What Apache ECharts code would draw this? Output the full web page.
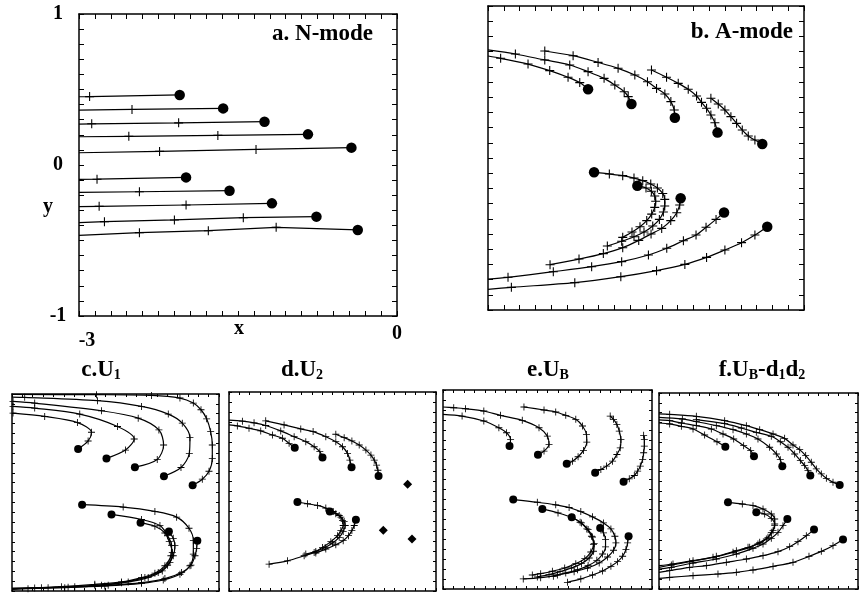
<!DOCTYPE html>
<html>
<head>
<meta charset="utf-8">
<script src="https://cdn.jsdelivr.net/npm/echarts@6/dist/echarts.min.js"></script>
<style>
html,body{margin:0;padding:0;background:#fff;}
#chart{width:860px;height:594px;}
</style>
</head>
<body>
<div id="chart"></div>
<script>
// Trajectories: each track is a list of [x, y] points. The first point is the
// starting position (filled dot); the others are marked with crosses.
// A third value of 0 means the point only carries the line to the frame edge.

const nModeTracks = [
  [[-2.05,0.464],[-2.90,0.453],[-3,0.452,0]],
  [[-1.64,0.375],[-2.50,0.368],[-3,0.364,0]],
  [[-1.25,0.287],[-2.06,0.279],[-2.88,0.273],[-3,0.271,0]],
  [[-0.84,0.203],[-1.69,0.196],[-2.53,0.190],[-3,0.187,0]],
  [[-0.43,0.115],[-1.33,0.103],[-2.24,0.090],[-3,0.081,0]],
  [[-1.99,-0.082],[-2.83,-0.094],[-3,-0.095,0]],
  [[-1.58,-0.170],[-2.43,-0.177],[-3,-0.181,0]],
  [[-1.18,-0.254],[-1.99,-0.265],[-2.81,-0.274],[-3,-0.276,0]],
  [[-0.76,-0.342],[-1.45,-0.349],[-2.10,-0.364],[-2.76,-0.375],[-3,-0.382,0]],
  [[-0.37,-0.430],[-1.14,-0.413],[-1.78,-0.435],[-2.43,-0.448],[-3,-0.466,0]]
];

const aModeTracks = [
  [[-2.050,0.452],[-2.129,0.496],[-2.240,0.531],[-2.414,0.575],[-2.620,0.618],[-2.880,0.656],[-3,0.671,0]],
  [[-1.638,0.355],[-1.669,0.404],[-1.707,0.436],[-1.796,0.480],[-1.898,0.524],[-2.050,0.568],[-2.224,0.612],[-2.461,0.645],[-2.740,0.684],[-3,0.711,0]],
  [[-1.226,0.265],[-1.232,0.316],[-1.264,0.371],[-1.321,0.421],[-1.400,0.458],[-1.486,0.502],[-1.606,0.546],[-1.765,0.590],[-1.955,0.629],[-2.192,0.673],[-2.461,0.704]],
  [[-0.821,0.167],[-0.846,0.232],[-0.884,0.283],[-0.925,0.327],[-0.973,0.366],[-1.020,0.408],[-1.099,0.452],[-1.194,0.491],[-1.305,0.531],[-1.448,0.579]],
  [[-0.396,0.092],[-0.466,0.118],[-0.529,0.145],[-0.586,0.184],[-0.640,0.228],[-0.694,0.272],[-0.751,0.316],[-0.814,0.355],[-0.884,0.393]],
  [[-1.993,-0.094],[-1.848,-0.105],[-1.721,-0.116],[-1.614,-0.132],[-1.531,-0.149],[-1.455,-0.171],[-1.392,-0.197],[-1.341,-0.233],[-1.322,-0.272],[-1.322,-0.316],[-1.335,-0.355],[-1.373,-0.404],[-1.436,-0.447],[-1.519,-0.487],[-1.614,-0.518],[-1.731,-0.548],[-1.867,-0.579]],
  [[-1.582,-0.182],[-1.500,-0.197],[-1.449,-0.219],[-1.417,-0.250],[-1.408,-0.285],[-1.417,-0.325],[-1.446,-0.369],[-1.493,-0.412],[-1.557,-0.452],[-1.633,-0.487],[-1.721,-0.522]],
  [[-1.171,-0.265],[-1.180,-0.309],[-1.208,-0.360],[-1.265,-0.412],[-1.351,-0.463],[-1.452,-0.500],[-1.569,-0.542],[-1.721,-0.590],[-1.905,-0.629],[-2.136,-0.665],[-2.411,-0.702]],
  [[-0.759,-0.358],[-0.835,-0.404],[-0.930,-0.456],[-1.025,-0.507],[-1.145,-0.544],[-1.303,-0.594],[-1.477,-0.638],[-1.731,-0.682],[-2.016,-0.715],[-2.380,-0.748],[-2.810,-0.785],[-3,-0.797,0]],
  [[-0.349,-0.452],[-0.466,-0.507],[-0.593,-0.557],[-0.751,-0.605],[-0.925,-0.654],[-1.131,-0.700],[-1.400,-0.741],[-1.739,-0.781],[-2.176,-0.820],[-2.778,-0.851],[-3,-0.864,0]]
];

const u1Tracks = [
  [[-2.042,0.441],[-1.897,0.523],[-1.848,0.612],[-2.052,0.710],[-2.526,0.772],[-2.985,0.806]],
  [[-1.631,0.346],[-1.355,0.431],[-1.229,0.543],[-1.471,0.670],[-2.018,0.796],[-2.671,0.857],[-2.985,0.874]],
  [[-1.219,0.257],[-0.895,0.336],[-0.803,0.482],[-0.871,0.635],[-1.171,0.755],[-1.703,0.830],[-2.671,0.908],[-2.985,0.925]],
  [[-0.798,0.165],[-0.551,0.254],[-0.430,0.397],[-0.421,0.557],[-0.532,0.704],[-0.735,0.796],[-1.123,0.874],[-1.761,0.932],[-2.816,0.966],[-3,0.969,0]],
  [[-0.382,0.073],[-0.242,0.135],[-0.145,0.216],[-0.097,0.346],[-0.097,0.482],[-0.121,0.618],[-0.179,0.748],[-0.261,0.840],[-0.372,0.908],[-0.566,0.959],[-0.977,0.986],[-1.776,0.993],[-3,0.995,0]],
  [[-1.984,-0.124],[-1.389,-0.148],[-0.929,-0.192],[-0.614,-0.250],[-0.435,-0.363],[-0.372,-0.489],[-0.372,-0.625],[-0.421,-0.744],[-0.566,-0.830],[-0.808,-0.888],[-1.123,-0.922],[-1.655,-0.949],[-2.235,-0.966],[-2.768,-0.976],[-3,-0.983,0]],
  [[-1.558,-0.223],[-1.123,-0.274],[-0.856,-0.336],[-0.745,-0.438],[-0.687,-0.540],[-0.697,-0.642],[-0.784,-0.744],[-0.929,-0.819],[-1.123,-0.864],[-1.413,-0.908],[-1.800,-0.932],[-2.284,-0.956],[-2.671,-0.969],[-3,-0.976,0]],
  [[-1.137,-0.308],[-0.929,-0.342],[-0.784,-0.411],[-0.721,-0.499],[-0.677,-0.608],[-0.711,-0.710],[-0.822,-0.796],[-1.026,-0.864],[-1.316,-0.908],[-1.703,-0.942],[-2.187,-0.962],[-3,-0.973,0]],
  [[-0.726,-0.397],[-0.663,-0.465],[-0.639,-0.540],[-0.663,-0.642],[-0.745,-0.738],[-0.881,-0.813],[-1.074,-0.864],[-1.413,-0.915],[-1.800,-0.942],[-2.477,-0.966],[-3,-0.979,0]],
  [[-0.314,-0.489],[-0.324,-0.567],[-0.348,-0.642],[-0.406,-0.738],[-0.542,-0.813],[-0.784,-0.874],[-1.123,-0.915],[-1.606,-0.942],[-2.090,-0.956],[-2.574,-0.966],[-3,-0.973,0]]
];

const u2Tracks = [
  [[-2.047,0.440],[-2.129,0.484],[-2.226,0.535],[-2.371,0.568],[-2.540,0.609],[-2.710,0.636],[-2.879,0.659],[-3,0.669,0]],
  [[-1.645,0.342],[-1.684,0.400],[-1.766,0.450],[-1.887,0.501],[-2.056,0.551],[-2.250,0.609],[-2.468,0.663],[-2.637,0.690],[-2.806,0.707],[-3,0.717,0]],
  [[-1.224,0.244],[-1.248,0.315],[-1.282,0.383],[-1.355,0.450],[-1.452,0.501],[-1.597,0.551],[-1.781,0.602],[-1.960,0.629],[-2.202,0.669],[-2.468,0.710]],
  [[-0.832,0.157],[-0.842,0.214],[-0.861,0.265],[-0.895,0.315],[-0.943,0.366],[-1.016,0.416],[-1.113,0.467],[-1.219,0.508],[-1.331,0.541],[-1.452,0.575]],
  [[-2.008,-0.106],[-1.863,-0.123],[-1.718,-0.140],[-1.597,-0.167],[-1.490,-0.201],[-1.403,-0.241],[-1.355,-0.292],[-1.345,-0.342],[-1.379,-0.393],[-1.427,-0.444],[-1.524,-0.504],[-1.645,-0.562],[-1.766,-0.612],[-1.911,-0.646],[-2.153,-0.697],[-2.419,-0.730]],
  [[-1.539,-0.201],[-1.452,-0.224],[-1.379,-0.258],[-1.331,-0.302],[-1.316,-0.342],[-1.345,-0.403],[-1.403,-0.461],[-1.500,-0.518],[-1.606,-0.562],[-1.742,-0.602],[-1.887,-0.629]],
  [[-1.161,-0.285],[-1.185,-0.342],[-1.219,-0.393],[-1.268,-0.444],[-1.345,-0.494],[-1.452,-0.535],[-1.597,-0.579],[-1.742,-0.619]]
];
// starting positions that do not move in the U2 run
const u2Stationary = [[-0.411,0.072],[-0.764,-0.390],[-0.348,-0.477]];

const ubTracks = [
  [[-2.045,0.436],[-2.030,0.503],[-2.088,0.570],[-2.198,0.621],[-2.414,0.688],[-2.726,0.738],[-3,0.755,0]],
  [[-1.637,0.349],[-1.550,0.386],[-1.478,0.453],[-1.502,0.537],[-1.622,0.621],[-1.862,0.695],[-2.174,0.745],[-2.414,0.789],[-2.678,0.812],[-2.846,0.822],[-3,0.829,0]],
  [[-1.224,0.258],[-1.142,0.285],[-1.061,0.329],[-0.984,0.393],[-0.936,0.476],[-0.941,0.554],[-0.998,0.638],[-1.094,0.705],[-1.238,0.745],[-1.382,0.779],[-1.550,0.799],[-1.838,0.829]],
  [[-0.816,0.168],[-0.734,0.201],[-0.653,0.235],[-0.566,0.285],[-0.504,0.352],[-0.456,0.419],[-0.446,0.503],[-0.470,0.587],[-0.504,0.654],[-0.552,0.705],[-0.600,0.738]],
  [[-0.408,0.077],[-0.326,0.107],[-0.254,0.141],[-0.206,0.184],[-0.168,0.235],[-0.134,0.302],[-0.120,0.369],[-0.110,0.436],[-0.110,0.503],[-0.120,0.544]],
  [[-1.992,-0.101],[-1.646,-0.128],[-1.382,-0.154],[-1.190,-0.181],[-1.022,-0.222],[-0.854,-0.275],[-0.696,-0.336],[-0.590,-0.396],[-0.533,-0.470],[-0.518,-0.537],[-0.552,-0.611],[-0.638,-0.678],[-0.758,-0.738],[-0.926,-0.789],[-1.118,-0.826],[-1.358,-0.859],[-1.598,-0.886],[-1.848,-0.899]],
  [[-1.574,-0.195],[-1.349,-0.235],[-1.157,-0.279],[-1.013,-0.336],[-0.917,-0.403],[-0.854,-0.477],[-0.840,-0.554],[-0.878,-0.628],[-0.965,-0.695],[-1.094,-0.745],[-1.253,-0.789],[-1.430,-0.822],[-1.598,-0.846],[-1.718,-0.859]],
  [[-1.152,-0.279],[-1.032,-0.329],[-0.936,-0.396],[-0.869,-0.470],[-0.830,-0.544],[-0.840,-0.621],[-0.902,-0.688],[-1.013,-0.745],[-1.157,-0.789],[-1.320,-0.826],[-1.478,-0.856],[-1.646,-0.879]],
  [[-0.744,-0.386],[-0.696,-0.436],[-0.667,-0.503],[-0.667,-0.577],[-0.710,-0.648],[-0.792,-0.712],[-0.917,-0.765],[-1.070,-0.806],[-1.238,-0.839],[-1.416,-0.873]],
  [[-0.336,-0.470],[-0.350,-0.537],[-0.374,-0.604],[-0.422,-0.671],[-0.494,-0.725],[-0.590,-0.772],[-0.710,-0.819],[-0.854,-0.859],[-1.022,-0.899],[-1.214,-0.933]]
];

const ubd1d2Tracks = [
  [[-2.000,0.452],[-2.126,0.503],[-2.312,0.571],[-2.487,0.633],[-2.663,0.660],[-2.839,0.684],[-3,0.694,0]],
  [[-1.568,0.354],[-1.618,0.412],[-1.724,0.463],[-1.874,0.531],[-2.035,0.582],[-2.211,0.633],[-2.437,0.667],[-2.663,0.694],[-2.839,0.718],[-3,0.725,0]],
  [[-1.141,0.252],[-1.171,0.320],[-1.231,0.378],[-1.332,0.446],[-1.508,0.531],[-1.683,0.582],[-1.884,0.626],[-2.136,0.667],[-2.437,0.708],[-2.648,0.735],[-3,0.752,0]],
  [[-0.719,0.157],[-0.754,0.208],[-0.804,0.259],[-0.869,0.310],[-0.955,0.378],[-1.055,0.446],[-1.171,0.503],[-1.307,0.558],[-1.533,0.599],[-1.759,0.643],[-2.010,0.687],[-2.437,0.728]],
  [[-0.276,0.061],[-0.377,0.089],[-0.477,0.129],[-0.553,0.174],[-0.628,0.225],[-0.704,0.293],[-0.789,0.361],[-0.879,0.422],[-0.980,0.469],[-1.106,0.537],[-1.281,0.582],[-1.482,0.626],[-1.683,0.667],[-2.010,0.718],[-2.437,0.762],[-2.839,0.782],[-3,0.786,0]],
  [[-1.960,-0.116],[-1.744,-0.133],[-1.583,-0.150],[-1.432,-0.184],[-1.307,-0.235],[-1.256,-0.286],[-1.256,-0.354],[-1.307,-0.422],[-1.382,-0.490],[-1.508,-0.541],[-1.658,-0.575],[-1.834,-0.609],[-2.136,-0.667],[-2.487,-0.711],[-2.789,-0.745],[-3,-0.762,0]],
  [[-1.533,-0.218],[-1.407,-0.235],[-1.307,-0.279],[-1.256,-0.337],[-1.281,-0.405],[-1.357,-0.473],[-1.482,-0.524],[-1.633,-0.575],[-1.884,-0.626],[-2.186,-0.677],[-2.538,-0.721],[-2.814,-0.755],[-3,-0.779,0]],
  [[-1.065,-0.286],[-1.131,-0.354],[-1.206,-0.422],[-1.307,-0.483],[-1.432,-0.541],[-1.583,-0.585],[-1.834,-0.643],[-2.136,-0.694],[-2.487,-0.735],[-2.814,-0.779],[-3,-0.796,0]],
  [[-0.663,-0.394],[-0.779,-0.456],[-0.905,-0.517],[-1.030,-0.568],[-1.206,-0.619],[-1.432,-0.660],[-1.683,-0.694],[-1.985,-0.728],[-2.286,-0.762],[-2.538,-0.779],[-2.839,-0.813],[-3,-0.830,0]],
  [[-0.226,-0.496],[-0.377,-0.558],[-0.553,-0.616],[-0.739,-0.667],[-0.980,-0.728],[-1.281,-0.769],[-1.583,-0.806],[-1.834,-0.830],[-2.111,-0.847],[-2.487,-0.864],[-2.839,-0.881],[-3,-0.891,0]]
];

const xTickLabels = ['-3', '0'];
const yTickLabels = ['-1', '0', '1'];
const axisNames = ['x', 'y'];
const panelTitles = ['a. N-mode', 'b. A-mode', 'c.U{s|1}', 'd.U{s|2}', 'e.U{s|B}', 'f.U{s|B}-d{s|1}d{s|2}'];

const FONT = '"Liberation Serif", "Times New Roman", serif';
const PLUS = 'path://M4.4,0H5.6V4.4H10V5.6H5.6V10H4.4V5.6H0V4.4H4.4Z';

const panels = [
  { grid: { left: 79, top: 14, width: 318, height: 302 }, tracks: nModeTracks, big: true, smooth: false },
  { grid: { left: 488, top: 6, width: 316, height: 304 }, tracks: aModeTracks, big: true, smooth: 0.3 },
  { grid: { left: 12, top: 394, width: 207, height: 197 }, tracks: u1Tracks, big: false, smooth: 0.3 },
  { grid: { left: 229, top: 392, width: 207, height: 199 }, tracks: u2Tracks, big: false, smooth: 0.3 },
  { grid: { left: 443, top: 390, width: 209, height: 199 }, tracks: ubTracks, big: false, smooth: 0.3 },
  { grid: { left: 659, top: 393, width: 199, height: 196 }, tracks: ubd1d2Tracks, big: false, smooth: 0.3 }
];

const near = (a, b) => Math.abs(a - b) < 1e-6;

function xLabelText(v) {
  if (near(v, -3)) return '{l|' + xTickLabels[0] + '}';
  if (near(v, 0)) return '{r|' + xTickLabels[1] + '}';
  return '';
}
function yLabelText(v) {
  if (near(v, -1)) return yTickLabels[0];
  if (near(v, 0)) return yTickLabels[1];
  if (near(v, 1)) return yTickLabels[2];
  return '';
}

const xAxes = [], yAxes = [], series = [];

panels.forEach((p, i) => {
  const tickLen = p.big ? 5 : 3;
  const line = { onZero: false, lineStyle: { color: '#000', width: 1.5 } };
  const tick = { inside: true, length: tickLen, lineStyle: { color: '#000', width: 1 } };
  const labelled = i === 0;
  ['bottom', 'top'].forEach(pos => {
    xAxes.push({
      gridIndex: i, type: 'value', min: -3, max: 0, interval: 0.15, position: pos,
      axisLine: line, axisTick: tick, splitLine: { show: false },
      axisLabel: (labelled && pos === 'bottom') ? {
        show: true, margin: 4, formatter: xLabelText, color: '#000',
        fontFamily: FONT, fontWeight: 'bold', fontSize: 20,
        rich: {
          l: { fontFamily: FONT, fontWeight: 'bold', fontSize: 20, color: '#000', padding: [11, 0, 0, 16] },
          r: { fontFamily: FONT, fontWeight: 'bold', fontSize: 20, color: '#000', padding: [4, 0, 0, 0] }
        }
      } : { show: false }
    });
  });
  ['left', 'right'].forEach(pos => {
    yAxes.push({
      gridIndex: i, type: 'value', min: -1, max: 1, interval: 0.1, position: pos,
      axisLine: line, axisTick: tick, splitLine: { show: false },
      axisLabel: (labelled && pos === 'left') ? {
        show: true, margin: 21, align: 'center', formatter: yLabelText, color: '#000',
        fontFamily: FONT, fontWeight: 'bold', fontSize: 20
      } : { show: false }
    });
  });

  const plusSize = p.big ? 9 : 7;
  const dotSize = p.big ? 10.5 : 8;
  p.tracks.forEach(track => {
    series.push({
      type: 'line', xAxisIndex: 2 * i, yAxisIndex: 2 * i,
      smooth: p.smooth, silent: true, clip: true,
      lineStyle: { color: '#000', width: 1.2 },
      itemStyle: { color: '#000' },
      data: track.map((pt, k) => ({
        value: [pt[0], pt[1]],
        symbol: k === 0 ? 'circle' : (pt[2] === 0 ? 'none' : PLUS),
        symbolSize: k === 0 ? dotSize : plusSize
      }))
    });
  });
});

// stationary starting points of the U2 run
series.push({
  type: 'scatter', xAxisIndex: 6, yAxisIndex: 6, silent: true,
  symbol: 'diamond', symbolSize: 9, itemStyle: { color: '#000', opacity: 1 },
  data: u2Stationary
});

const titleRich = {
  m: { fontFamily: FONT, fontWeight: 'bold', fontSize: 23, lineHeight: 26, verticalAlign: 'bottom', color: '#000' },
  s: { fontFamily: FONT, fontWeight: 'bold', fontSize: 14, lineHeight: 14, verticalAlign: 'bottom', color: '#000' }
};
function richTitle(t) {
  // wrap plain runs in the main style, keep {s|..} runs as subscripts
  return t.split(/(\{s\|[^}]*\})/).filter(Boolean)
    .map(part => part.startsWith('{s|') ? part : '{m|' + part + '}').join('');
}

const graphic = [
  { type: 'text', x: 373, y: 34, style: { text: panelTitles[0], font: 'bold 23px ' + FONT, fill: '#000', textAlign: 'right', textVerticalAlign: 'middle' } },
  { type: 'text', x: 793, y: 32, style: { text: panelTitles[1], font: 'bold 23px ' + FONT, fill: '#000', textAlign: 'right', textVerticalAlign: 'middle' } },
  { type: 'text', x: 239, y: 329, style: { text: axisNames[0], font: 'bold 20px ' + FONT, fill: '#000', textAlign: 'center', textVerticalAlign: 'middle' } },
  { type: 'text', x: 48, y: 207, style: { text: axisNames[1], font: 'bold 20px ' + FONT, fill: '#000', textAlign: 'center', textVerticalAlign: 'middle' } }
];
const titleCentres = [101, 302, 548, 762];
titleCentres.forEach((cx, k) => {
  graphic.push({
    type: 'text', x: cx, y: 382,
    style: { text: richTitle(panelTitles[k + 2]), rich: titleRich, fill: '#000', textAlign: 'center', textVerticalAlign: 'bottom' }
  });
});

const chart = echarts.init(document.getElementById('chart'), null, { renderer: 'canvas' });
chart.setOption({
  animation: false,
  backgroundColor: '#fff',
  grid: panels.map(p => Object.assign({ containLabel: false }, p.grid)),
  xAxis: xAxes,
  yAxis: yAxes,
  series: series,
  graphic: graphic
});
</script>
</body>
</html>
